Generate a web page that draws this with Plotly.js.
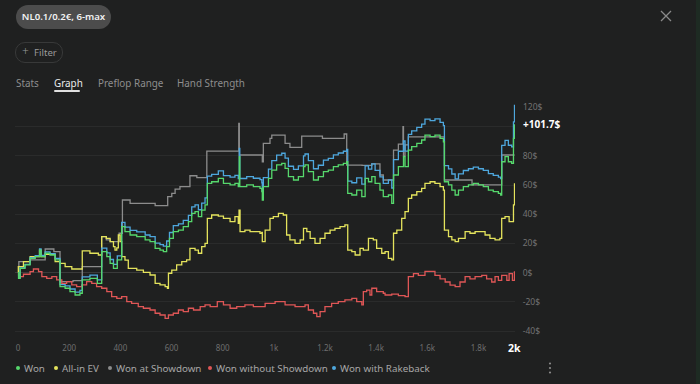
<!DOCTYPE html>
<html>
<head>
<meta charset="utf-8">
<script src="https://cdn.plot.ly/plotly-3.0.1.min.js"></script>
<style>
  html, body { margin:0; padding:0; background:#1f2020; width:700px; height:384px; overflow:hidden; font-family:"Noto Sans", sans-serif; }
  #chart { position:absolute; left:0; top:0; width:700px; height:384px; }
  .abs { position:absolute; white-space:nowrap; }
  .pill { left:16px; top:5px; width:95px; height:24px; border-radius:12px; background:#4c4c4c; color:#f2f2f2; font-size:9.6px; font-weight:600; line-height:24px; text-align:center; }
  .filter { left:15px; top:42px; width:46px; height:19px; border:1px solid #383939; border-radius:10px; color:#9a9a9a; font-size:9.6px; line-height:19px; }
  .tab { top:75px; font-size:9.9px; color:#8e8e8e; line-height:16px; }
  .tab.active { color:#ececec; }
  .uline { left:54px; top:90px; width:26px; height:2px; background:#e0e0e0; border-radius:1px; }
  .leg { top:361px; font-size:9.8px; color:#a6a6a6; line-height:15px; }
  .dot { display:inline-block; width:4px; height:4px; border-radius:2px; margin-right:4px; vertical-align:middle; position:relative; top:-1px; }
  .strip { left:696px; top:0; width:4px; height:384px; background:#1e2b23; }
</style>
</head>
<body>
<div id="chart"></div>

<div class="abs pill">NL0.1/0.2€, 6-max</div>
<div class="abs filter"><span style="position:absolute;left:6px;top:-1px;font-size:12px;font-weight:300;">+</span><span style="position:absolute;left:18px;top:0;">Filter</span></div>
<div class="abs tab" style="left:16px;">Stats</div>
<div class="abs tab active" style="left:54px;">Graph</div>
<div class="abs tab" style="left:98px;">Preflop Range</div>
<div class="abs tab" style="left:177px;">Hand Strength</div>
<div class="abs uline"></div>
<svg class="abs" style="left:659px;top:9px;" width="14" height="14" viewBox="0 0 14 14"><path d="M2 2 L12 12 M12 2 L2 12" stroke="#8a8a8a" stroke-width="1.3" fill="none"/></svg>
<div class="abs strip"></div>
<div id="legend"></div>
<svg class="abs" style="left:548px;top:361px;" width="4" height="14" viewBox="0 0 4 14"><circle cx="2" cy="2.5" r="1.1" fill="#8a8a8a"/><circle cx="2" cy="7" r="1.1" fill="#8a8a8a"/><circle cx="2" cy="11.5" r="1.1" fill="#8a8a8a"/></svg>

<script>
// ---- data (hands played vs. cumulative $) ----
const xTickVals = [0, 200, 400, 600, 800, 1000, 1200, 1400, 1600, 1800];
const xTickText = ['0', '200', '400', '600', '800', '1k', '1.2k', '1.4k', '1.6k', '1.8k'];
const yTickVals = [-40, -20, 0, 20, 40, 60, 80, 100];
const yTickText = ['-40$', '-20$', '0$', '20$', '40$', '60$', '80$', ''];
const topTickText = '120$';
const handsLabel = '2k';

const seriesNames = ['Won', 'All-in EV', 'Won at Showdown', 'Won without Showdown', 'Won with Rakeback'];

const wonHands = [
  0,2,8,27,47,67,84,90,106,125,
  145,164,184,203,223,242,251,281,310,327,
  347,360,373,388,405,418,438,464,497,516,
  536,555,568,581,592,607,627,646,666,679,
  692,705,718,731,740,757,783,803,829,848,
  861,865,867,894,920,946,953,955,959,979,
  992,1011,1031,1044,1057,1077,1096,1116,1122,1135,
  1155,1174,1194,1213,1233,1252,1272,1285,1289,1305,
  1324,1344,1357,1370,1383,1396,1415,1428,1448,1461,
  1468,1487,1507,1513,1526,1539,1559,1578,1591,1611,
  1630,1650,1663,1667,1683,1696,1709,1722,1741,1761,
  1780,1800,1819,1839,1858,1878,1887,1891,1904,1917,
  1930,1937,1941];
const wonValues = [
  0,-3.9,3,5.3,9.8,11,15.5,11,13.3,12.1,
  8.7,-9.6,-10.7,-13,-15.3,-14.1,-5,-3.9,-7.3,14.4,
  11,6.4,3,8.7,31.5,28.1,25.8,24.7,22.4,21.2,
  16.7,15.5,14.4,17.8,23.5,28.1,29.2,31.5,34.9,40.6,
  41.8,38.4,42.9,46.4,61.2,62.3,64.6,61.2,60.1,61.2,
  58.9,79.5,58.9,60.1,58.9,57.8,55.5,49.8,58.9,64.6,
  70.3,73.8,74.9,71.5,65.8,63.5,65.8,72.6,73.8,69.2,
  63.5,65.8,69.2,70.3,72.6,73.8,74.9,76,54.3,53.2,
  56.6,52.1,64.6,62.3,65.8,61.2,56.6,52.1,53.2,47.5,
  66.9,72.6,79.5,72.6,84,86.3,88.6,90.9,94.3,93.2,
  94.3,92,89.7,62.3,60.1,56.6,53.2,56.6,58.9,60.1,
  61.2,60.1,58.9,56.6,55.5,54.3,53.2,76,79.5,76,
  74.9,92,101.7];
const rakebackValues = [
  0,-3.6,3.3,5.7,10.3,11.6,16.2,11.8,14.2,13.1,
  9.8,-8.2,-9.1,-11.2,-13.4,-12.1,-2.9,-1.7,-5,16.8,
  13.5,9,5.7,11.5,34.5,31.2,29,28,25.8,24.7,
  20.3,19.2,18.2,21.7,27.5,32.2,33.4,35.8,39.3,45.1,
  46.4,43.1,47.7,51.3,66.2,67.4,69.8,66.5,65.5,66.7,
  64.5,85.1,64.5,65.8,64.7,63.7,61.6,55.9,65.1,71,
  76.8,80.5,81.8,78.5,72.9,70.7,73.1,80,81.3,76.8,
  71.2,73.6,77.1,78.3,80.7,82,83.2,84.4,62.7,61.6,
  65,60.6,73.2,71,74.6,70.1,65.6,61.2,63.6,58,
  77.4,83.2,90.2,83.3,94.8,97.1,99.5,101.8,105.2,104.2,
  105.3,103,100.7,73.3,71.1,67.6,64.3,67.7,70,71.2,
  72.3,71.2,70.1,67.8,66.7,65.5,64.4,87.2,90.7,87.3,
  86.2,103.3,115];

const evHands = [
  0,1,21,47,84,90,106,145,164,184,
  210,251,281,314,327,345,360,373,379,386,
  392,399,405,418,431,464,490,516,536,555,
  575,584,588,601,620,640,659,672,692,705,
  718,731,740,757,783,803,829,848,861,864,
  868,887,907,946,953,955,966,985,998,1018,
  1037,1050,1063,1083,1103,1116,1129,1142,1161,1181,
  1200,1220,1239,1259,1278,1289,1305,1318,1337,1350,
  1370,1389,1402,1422,1435,1448,1461,1468,1481,1500,
  1513,1526,1539,1559,1578,1591,1611,1630,1650,1663,
  1667,1683,1696,1709,1722,1748,1767,1787,1806,1826,
  1845,1865,1884,1891,1904,1920,1937,1941];
const evValues = [
  0,4.1,7.5,11,15.5,11,12.5,7.5,6.4,4.1,
  2.5,14.9,13.3,12.1,24.7,23.5,21.2,17.8,15.5,17,
  25.8,21.2,11,8.6,3,1.8,0.2,-1.6,-7.3,-8.4,
  -9.6,-10.7,-0.4,1.8,5.3,7.5,8.7,16.7,15.5,13.3,
  17.8,20.1,37.2,39.5,38.8,37.2,34.9,38.4,33.8,42.9,
  28.1,29.2,28.1,27,27.5,21.2,29.2,37.2,38.4,40.6,
  39.5,25.8,22.4,20.1,22.4,30.4,28.1,23.5,20.1,23.5,
  27,29.2,30.4,31.5,32.7,15.5,14.4,12.1,16.7,15.5,
  23.5,22.4,16.7,13.3,14.4,9.8,8.7,27,29.2,37.2,
  41.8,50.9,53.2,55.5,57.8,61.2,62.3,61.2,58.9,56.6,
  29.2,24.7,22.4,21.2,23.5,28.1,27,28.1,28.1,25.8,
  23.5,22.4,23.5,37.2,38.4,35,46.4,61.2];

const showdownHands = [
  0,3,47,106,140,164,215,251,327,345,
  360,395,408,438,536,585,601,614,633,672,
  699,738,863,865,955,959,985,992,1044,1063,
  1109,1190,1275,1285,1345,1383,1415,1428,1468,1487,
  1505,1507,1513,1526,1663,1667,1775,1891,1941];
const showdownValues = [
  0,7.5,8.7,16.2,14.4,-6.2,-5.5,4.1,24.7,22.4,
  21.2,27,49.8,47.5,45.9,52.1,54.3,57.3,58.9,66.4,
  65.1,83.3,102.3,80.6,76,88.6,92,94.3,88.6,85.8,
  93.6,92,95,73.7,73.5,74.5,66.9,63.5,84,88,
  100,80,87.5,93,93,63.5,60.1,80.6,80.6];

const noShowdownHands = [
  0,2,8,21,47,60,80,93,112,132,
  151,171,190,210,229,249,268,288,307,327,
  347,366,386,405,425,444,470,490,516,536,
  555,575,588,607,627,646,666,686,712,731,
  751,779,803,829,855,887,920,966,1005,1044,
  1083,1122,1135,1155,1168,1181,1200,1226,1252,1278,
  1305,1324,1344,1350,1363,1376,1383,1402,1428,1435,
  1461,1487,1513,1526,1546,1565,1591,1630,1650,1670,
  1689,1709,1728,1748,1767,1787,1813,1832,1852,1865,
  1878,1891,1911,1920,1933,1941];
const noShowdownValues = [
  0,-1.6,-2.7,-1.1,0.7,2.5,0.7,-2.7,-3.9,-2.7,
  -5,-7.3,-6.2,-8.4,-9.6,-8.4,-6.2,-7.3,-9.6,-10.7,
  -13,-16.4,-17.6,-16.4,-19.9,-21,-23.3,-24.4,-25.6,-27.8,
  -29,-31.3,-29,-27.8,-25.6,-26.7,-24.4,-25.6,-23.3,-22.1,
  -23.3,-19.9,-22.1,-24.4,-23.3,-22.1,-23.3,-21,-19.9,-22.1,
  -23.3,-22.1,-25.6,-27.8,-30.1,-26.7,-23.3,-21,-19.9,-18.7,
  -17.6,-19.9,-22.1,-13,-11.9,-15.3,-10.7,-13,-14.1,-15.3,
  -14.7,-15.8,-16.4,-2.7,-0.7,-1.8,0.9,-1.8,-4.2,-6.4,
  -8.6,-9.6,-6.4,-2.7,-4.2,-2.7,-1.8,-4.2,-6.4,-2.7,
  -5.3,-1.8,-5.3,-0.7,-5.3,0.9];

const colors = {
  won: '#56d86c',
  ev: '#e4e35c',
  showdown: '#8c8c8c',
  noShowdown: '#df5656',
  rakeback: '#4ea7dd'
};

function stepTrace(x, y, color, name) {
  return { type: 'scatter', mode: 'lines', x: x, y: y, name: name,
           line: { color: color, width: 1.3, shape: 'hv' }, hoverinfo: 'skip' };
}

const traces = [
  stepTrace(showdownHands, showdownValues, colors.showdown, seriesNames[2]),
  stepTrace(noShowdownHands, noShowdownValues, colors.noShowdown, seriesNames[3]),
  stepTrace(evHands, evValues, colors.ev, seriesNames[1]),
  stepTrace(wonHands, rakebackValues, colors.rakeback, seriesNames[4]),
  stepTrace(wonHands, wonValues, colors.won, seriesNames[0])
];

const lastWon = wonValues[wonValues.length - 1];
const lastHand = wonHands[wonHands.length - 1];
const tickFont = { family: 'Noto Sans, sans-serif', size: 8, color: '#6e6e6e' };

const layout = {
  width: 700, height: 384,
  margin: { l: 15, r: 185, t: 100, b: 48, pad: 0 },
  paper_bgcolor: 'rgba(0,0,0,0)',
  plot_bgcolor: 'rgba(0,0,0,0)',
  showlegend: false,
  xaxis: {
    range: [-12, 1943], tickmode: 'array', tickvals: xTickVals, ticktext: xTickText,
    showgrid: false, zeroline: false, showline: false,
    ticks: 'outside', ticklen: 4, tickcolor: 'rgba(0,0,0,0)',
    tickfont: tickFont, fixedrange: true
  },
  yaxis: {
    side: 'right', range: [-43.4, 118.3], tickmode: 'array', tickvals: yTickVals, ticktext: yTickText,
    showgrid: true, gridcolor: '#2a2b2b', gridwidth: 1,
    zeroline: true, zerolinecolor: '#3a3b3b', zerolinewidth: 1,
    showline: false, ticks: 'outside', ticklen: 5, tickcolor: 'rgba(0,0,0,0)',
    tickfont: Object.assign({}, tickFont, { size: 8.5, color: '#737373' }), fixedrange: true
  },
  annotations: [
    { xref: 'paper', x: 1, xanchor: 'left', xshift: 6, yref: 'y', y: 113.7, yanchor: 'middle',
      text: topTickText, showarrow: false, font: Object.assign({}, tickFont, { size: 8.5, color: '#737373' }) },
    { xref: 'paper', x: 1, xanchor: 'left', xshift: 6, yref: 'y', y: lastWon, yanchor: 'middle',
      text: '<b>+' + lastWon.toFixed(1) + '$</b>', showarrow: false,
      font: { family: 'Noto Sans, sans-serif', size: 10, color: '#ffffff' } },
    { xref: 'x', x: lastHand, xanchor: 'center', yref: 'paper', y: 0, yanchor: 'top', yshift: -3,
      text: '<b>' + handsLabel + '</b>', showarrow: false,
      font: { family: 'Noto Sans, sans-serif', size: 10.5, color: '#ffffff' } }
  ]
};

Plotly.newPlot('chart', traces, layout, { displayModeBar: false, staticPlot: true });

// legend (HTML, positioned like the reference)
const legendColors = [colors.won, colors.ev, colors.showdown, colors.noShowdown, colors.rakeback];
const legendLeft = [16, 54, 108, 208, 332];
const legendDiv = document.getElementById('legend');
seriesNames.forEach(function (n, i) {
  const d = document.createElement('div');
  d.className = 'abs leg';
  d.style.left = legendLeft[i] + 'px';
  d.innerHTML = '<span class="dot" style="background:' + legendColors[i] + '"></span>' + n;
  legendDiv.appendChild(d);
});
</script>
</body>
</html>
